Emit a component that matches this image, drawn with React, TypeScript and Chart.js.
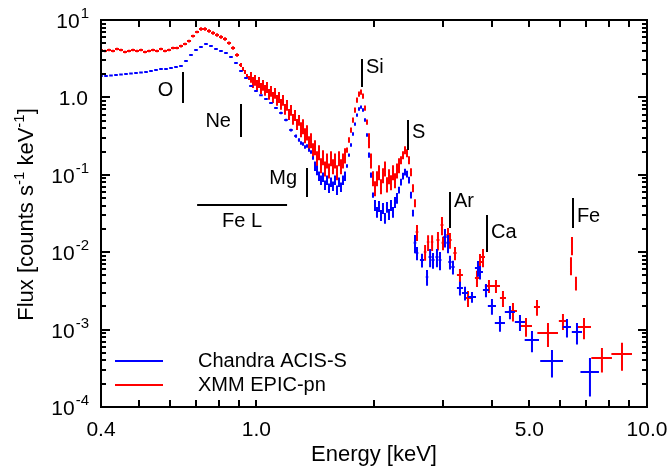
import React, { useEffect, useRef } from 'react';
import { Chart, registerables } from 'chart.js';

Chart.register(...registerables);

// ---------------- data ----------------
// Chandra ACIS-S, finely binned part (energy keV, flux, error %)
const chandraE = [0.400,0.412,0.4243,0.437,0.4501,0.4635,0.4774,0.4917,0.5064,0.5216,0.5371,0.5532,0.5698,0.5868,0.6044,0.6224,0.6410,0.6602,0.6800,0.7003,0.7212,0.7428,0.7650,0.7879,0.8115,0.8357,0.8607,0.8865,0.9130,0.9403,0.9684,0.9974,1.0272,1.0579,1.0896,1.1222,1.1557,1.1903,1.2259,1.2626,
  1.2852,1.3004,1.3159,1.3315,1.3473,1.3632,1.3794,1.3958,1.4123,1.4291,1.4460,1.4632,1.4805,1.4981,1.5158,1.5338,1.5520,1.5704,1.5890,1.6079,1.6269,1.6462,1.6657,1.6855,1.7055,1.7257,1.7462,1.7669,1.7879,1.8091,1.8305,1.8522,1.8742,1.8964,1.9189,1.9417,1.9647,1.9880,2.0116,2.0354,2.0596,2.0840,2.1087,2.1337,2.1590,2.1846,2.2105,2.2368,2.2633,2.2901,2.3173,2.3448,2.3726,2.4007,2.4292,2.4580,2.4871,2.5166];
const chandraF = [1.89,1.89,1.92,1.95,1.98,2.01,2.04,2.07,2.10,2.13,2.19,2.26,2.33,2.33,2.40,2.47,2.55,2.95,3.53,4.10,4.48,4.90,4.61,4.22,3.98,3.75,3.33,2.78,2.19,1.78,1.40,1.21,1.07,0.953,0.846,0.730,0.629,0.511,0.379,0.317,
  0.282,0.258,0.250,0.229,0.236,0.209,0.197,0.165,0.130,0.115,0.0965,0.0857,0.0937,0.0738,0.0857,0.0675,0.0807,0.0717,0.0857,0.0636,0.0807,0.0696,0.0857,0.0965,0.130,0.180,0.243,0.337,0.453,0.592,0.708,0.751,0.688,0.511,0.327,0.180,0.0994,0.0548,0.0407,0.0331,0.0395,0.0302,0.0372,0.0277,0.0384,0.0311,0.0407,0.0331,0.0445,0.0502,0.0636,0.0807,0.0965,0.1087,0.1024,0.0857,0.0548,0.0321];
const chandraErrPct = [2,2,2,2,2,2,2,2,2,2,2,2,2,2,2,2,2,2,2,2,2,2,2,2,2,2,2,2,2,2,2,2,3,3,3,3,4,4,4,5,
  5,5,5,5,5,5,5,5,
  14,14,14,14,14,14,14,14,14,14,14,14,14,14,14,14,
  5,5,5,5,5,5,5,5,5,5,5,
  8,8,8,
  16,16,16,16,16,16,16,16,16,16,16,16,
  10,10,10,10,10,10,10,10];
// Chandra ACIS-S, grouped bins (energy, flux, energy half width, flux error)
const chandraBinE = [2.547,2.577,2.654,2.734,2.784,2.832,2.899,2.951,3.039,3.094,3.130,3.186,3.320,3.420,3.564,3.692,3.736,3.870,4.009,4.203,4.458,4.729,5.076,5.711,6.239,6.618,7.144];
const chandraBinF = [0.0132,0.00976,0.00793,0.00478,0.00867,0.00793,0.00867,0.00793,0.0157,0.0132,0.00747,0.00644,0.00345,0.00297,0.00264,0.00625,0.00555,0.00325,0.00202,0.00122,0.00169,0.00125,0.000734,0.000393,0.00108,0.00093,0.000283];
const chandraBinDE = [0.02,0.02,0.032,0.02,0.025,0.025,0.025,0.025,0.03,0.03,0.03,0.03,0.059,0.061,0.085,0.066,0.066,0.069,0.096,0.126,0.133,0.141,0.214,0.383,0.149,0.198,0.389];
const chandraBinDF = [0.0035,0.0019,0.0016,0.0011,0.0023,0.0018,0.0023,0.0021,0.0042,0.0035,0.0015,0.0013,0.0007,0.0006,0.00042,0.00145,0.0011,0.00064,0.00047,0.00028,0.00033,0.00029,0.000225,0.000152,0.00029,0.00029,0.000146];

// XMM EPIC-pn, finely binned part
const xmmE = [0.400,0.4096,0.4193,0.4293,0.4396,0.4501,0.4608,0.4718,0.4830,0.4946,0.5064,0.5185,0.5309,0.5436,0.5565,0.5698,0.5834,0.5974,0.6116,0.6262,0.6410,0.6564,0.6721,0.6882,0.7046,0.7212,0.7385,0.7563,0.7743,0.7928,0.8115,0.8310,0.8509,0.8712,0.8920,
  0.9130,0.9238,0.9348,0.9459,0.9571,0.9684,0.9799,0.9916,1.0033,1.0152,1.0272,1.0394,1.0518,1.0642,1.0769,1.0896,1.1025,1.1156,1.1289,1.1422,1.1558,1.1695,1.1834,1.1974,1.2116,1.2260,1.2405,1.2553,1.2701,1.2852,1.3004,1.3159,1.3315,1.3473,1.3632,1.3794,1.3958,1.4123,1.4291,1.4460,1.4632,1.4805,1.4981,1.5158,1.5338,1.5520,1.5704,1.5890,1.6079,1.6269,1.6462,1.6657,1.6855,1.7055,1.7257,1.7462,1.7669,1.7879,1.8091,1.8305,1.8522,1.8742,1.8964,1.9189,1.9417,1.9647,1.9880,2.0116,2.0354,2.0596,2.0840,2.1087,2.1337,2.1590,2.1846,2.2105,2.2368,2.2633,2.2901,2.3173,2.3448,2.3726,2.4007,2.4292,2.4580,2.4871,2.5166,2.5465];
const xmmF = [4.10,3.98,4.10,3.98,4.22,4.10,3.86,3.98,4.10,3.98,4.10,3.86,3.98,4.10,3.98,4.22,3.98,4.10,4.35,4.35,4.61,4.90,5.35,6.21,7.00,7.65,7.65,7.21,6.79,6.40,6.03,5.68,5.04,4.35,3.53,
  2.62,2.33,2.13,1.89,1.78,1.84,1.58,1.68,1.45,1.58,1.32,1.45,1.25,1.36,1.11,1.21,1.01,1.14,0.926,1.01,0.822,0.926,0.708,0.798,0.610,0.688,0.526,0.592,0.453,0.511,
  0.391,0.427,0.327,0.357,0.258,0.282,0.209,0.229,0.165,0.197,0.134,0.170,0.122,0.155,0.115,0.165,0.130,0.155,0.1087,0.165,0.130,0.155,0.180,
  0.209,0.282,0.379,0.511,0.688,0.926,1.106,1.174,1.043,0.730,0.481,
  0.282,0.155,0.0909,0.0675,0.0909,0.1087,0.0717,0.0994,0.122,0.0760,0.0965,0.0807,0.1087,0.0857,0.115,0.134,
  0.155,0.180,0.209,0.191,0.155,0.1087,0.0675,0.0432];
const xmmErrPct = [4,4,4,4,4,4,4,4,4,4,4,4,4,4,4,4,4,4,4,4,4,4,4,4,4,5,5,5,5,5,5,5,5,5,5,
  6,6,6,6,6,
  16,16,16,16,16,16,16,16,16,16,16,16,16,16,16,16,16,16,16,16,16,16,16,16,16,
  22,22,22,22,22,22,22,22,22,22,22,22,22,22,22,22,22,22,22,22,22,22,22,
  8,8,8,8,8,8,8,8,8,8,8,
  22,22,22,22,22,22,22,22,22,22,22,22,22,22,22,22,
  12,12,12,12,12,12,12,12];
// XMM EPIC-pn, grouped bins
const xmmBinE = [2.577,2.703,2.751,2.817,2.916,2.986,3.004,3.094,3.130,3.224,3.320,3.481,3.670,3.736,3.803,3.939,4.105,4.278,4.538,4.900,5.228,5.578,6.093,6.388,6.426,6.579,6.897,7.667,8.629];
const xmmBinF = [0.0182,0.01006,0.0135,0.0135,0.0144,0.0225,0.0132,0.0167,0.0144,0.00976,0.00508,0.00256,0.00464,0.00747,0.00867,0.00366,0.00366,0.00256,0.00174,0.00111,0.00196,0.000904,0.00129,0.00683,0.0124,0.004,0.00108,0.00043,0.000484];
const xmmBinDE = [0.02,0.02,0.02,0.02,0.025,0.025,0.025,0.03,0.03,0.03,0.059,0.062,0.044,0.044,0.045,0.094,0.098,0.076,0.108,0.176,0.093,0.339,0.146,0.008,0.008,0.017,0.29,0.465,0.523];
const xmmBinDF = [0.0042,0.0023,0.0031,0.0031,0.0039,0.006,0.0026,0.0039,0.0033,0.0019,0.001,0.0006,0.0011,0.002,0.0023,0.0007,0.0007,0.0006,0.00047,0.0003,0.00045,0.00031,0.0003,0.0018,0.0033,0.0008,0.00033,0.00015,0.00019];

const seriesNames = ['Chandra ACIS-S', 'XMM EPIC-pn'];

// axes
const xMin = 0.4, xMax = 10;
const yMin = 1e-4, yMax = 10;
const xTickValues = [0.4,0.5,0.6,0.7,0.8,0.9,1,2,3,4,5,6,7,8,9,10];
const xTickLabels = ['0.4','','','','','','1.0','','','','5.0','','','','','10.0'];
const yDecades = [1e-4,1e-3,1e-2,1e-1,1,10];
const yDecadeBase = ['10','10','10','10','1.0','10'];
const yDecadeExp = ['-4','-3','-2','-1','','1'];
const xTitle = 'Energy [keV]';

// emission line markers
const lineNames = ['O','Ne','Mg','Si','S','Ar','Ca','Fe'];
const lineEnergy = [0.65,0.913,1.348,1.863,2.444,3.13,3.893,6.46];
const lineTopF = [2.13,0.822,0.122,3.13,0.511,0.06,0.0302,0.0502];
const lineBottomF = [0.846,0.308,0.0517,1.36,0.209,0.0205,0.01006,0.0205];
const labelF = [1.265,0.503,0.0937,2.58,0.368,0.0472,0.0188,0.0298];
const labelSide = ['left','left','left','right','right','right','right','right'];
const feLName = 'Fe L';
const feLRange = [0.705, 1.198];
const feLFlux = 0.0407;
const feLLabelF = 0.0257;

// ---------------- helpers ----------------
const BLUE = '#0000ff';
const RED = '#ff0000';
const FONT = '"Liberation Sans", Arial, Helvetica, sans-serif';

type P = { x: number; y: number; xl: number; xh: number; yl: number; yh: number };

function densePoints(E: number[], F: number[], pct: number[], frac: number): P[] {
  return E.map((e, i) => {
    const l = i > 0 ? Math.log10(e / E[i - 1]) : Math.log10(E[i + 1] / e);
    const r = i < E.length - 1 ? Math.log10(E[i + 1] / e) : l;
    const f = F[i];
    const d = (f * pct[i]) / 100;
    return { x: e, y: f, xl: e * Math.pow(10, -frac * l), xh: e * Math.pow(10, frac * r), yl: f - d, yh: f + d };
  });
}
function binPoints(E: number[], F: number[], DE: number[], DF: number[]): P[] {
  return E.map((e, i) => ({ x: e, y: F[i], xl: e - DE[i], xh: e + DE[i], yl: Math.max(F[i] - DF[i], 1e-6), yh: F[i] + DF[i] }));
}

const errorBarPlugin = {
  id: 'errorBars',
  afterDatasetsDraw(chart: any) {
    const { ctx, chartArea: a } = chart;
    const xs = chart.scales.x, ys = chart.scales.y;
    ctx.save();
    ctx.beginPath();
    ctx.rect(a.left, a.top, a.right - a.left, a.bottom - a.top);
    ctx.clip();
    chart.data.datasets.forEach((ds: any) => {
      ctx.strokeStyle = ds.borderColor;
      ctx.lineWidth = ds.borderWidth;
      ctx.lineCap = 'butt';
      ctx.beginPath();
      ds.data.forEach((p: P) => {
        const px = xs.getPixelForValue(p.x);
        const py = ys.getPixelForValue(p.y);
        ctx.moveTo(xs.getPixelForValue(p.xl), py);
        ctx.lineTo(xs.getPixelForValue(p.xh), py);
        ctx.moveTo(px, ys.getPixelForValue(p.yl));
        ctx.lineTo(px, ys.getPixelForValue(p.yh));
      });
      ctx.stroke();
    });
    ctx.restore();
  },
};

const framePlugin = {
  id: 'frame',
  afterDraw(chart: any) {
    const { ctx, chartArea: a } = chart;
    const xs = chart.scales.x, ys = chart.scales.y;
    ctx.save();
    ctx.strokeStyle = '#000';
    ctx.fillStyle = '#000';
    ctx.lineWidth = 2;
    ctx.strokeRect(a.left, a.top, a.right - a.left, a.bottom - a.top);

    // x ticks (inward, bottom and top)
    ctx.beginPath();
    xTickValues.forEach((v) => {
      if (v <= xMin || v >= xMax) return;
      const px = Math.round(xs.getPixelForValue(v));
      ctx.moveTo(px, a.bottom); ctx.lineTo(px, a.bottom - 7);
      ctx.moveTo(px, a.top); ctx.lineTo(px, a.top + 7);
    });
    // y ticks, major decades + minor 2..9
    yDecades.forEach((d) => {
      for (let m = 1; m <= 9; m++) {
        const v = d * m;
        if (v <= yMin || v >= yMax) continue;
        const py = Math.round(ys.getPixelForValue(v));
        const len = m === 1 ? 9 : 5;
        ctx.moveTo(a.left, py); ctx.lineTo(a.left + len, py);
        ctx.moveTo(a.right, py); ctx.lineTo(a.right - len, py);
      }
    });
    ctx.stroke();

    // x tick labels
    ctx.font = `21px ${FONT}`;
    ctx.textAlign = 'center';
    ctx.textBaseline = 'alphabetic';
    xTickValues.forEach((v, i) => {
      const t = xTickLabels[i];
      if (!t) return;
      ctx.fillText(t, xs.getPixelForValue(v), a.bottom + 29);
    });

    // y tick labels with superscripts
    ctx.textAlign = 'left';
    yDecades.forEach((d, i) => {
      const py = ys.getPixelForValue(d);
      const base = yDecadeBase[i], exp = yDecadeExp[i];
      ctx.font = `21px ${FONT}`;
      const wb = ctx.measureText(base).width;
      ctx.font = `15px ${FONT}`;
      const we = exp ? ctx.measureText(exp).width : 0;
      const right = a.left - 13;
      const start = right - wb - we;
      ctx.font = `21px ${FONT}`;
      ctx.fillText(base, start, py + 8);
      if (exp) {
        ctx.font = `15px ${FONT}`;
        ctx.fillText(exp, start + wb + 1, py - 2);
      }
    });

    // x title
    ctx.font = `22px ${FONT}`;
    ctx.textAlign = 'center';
    ctx.fillText(xTitle, (a.left + a.right) / 2, a.bottom + 54);

    // y title (rotated, with superscripts)
    const parts: [string, boolean][] = [['Flux [counts s', false], ['-1', true], [' keV', false], ['-1', true], [']', false]];
    const widths = parts.map(([t, sup]) => { ctx.font = `${sup ? 15 : 22}px ${FONT}`; return ctx.measureText(t).width; });
    const total = widths.reduce((s, w) => s + w, 0);
    ctx.save();
    ctx.translate(33, (a.top + a.bottom) / 2 + 1);
    ctx.rotate(-Math.PI / 2);
    ctx.textAlign = 'left';
    let cx = -total / 2;
    parts.forEach(([t, sup], i) => {
      ctx.font = `${sup ? 15 : 22}px ${FONT}`;
      ctx.fillText(t, cx, sup ? -9 : 0);
      cx += widths[i];
    });
    ctx.restore();

    // emission line markers
    ctx.lineWidth = 2;
    ctx.font = `20px ${FONT}`;
    ctx.beginPath();
    lineNames.forEach((n, i) => {
      const px = Math.round(xs.getPixelForValue(lineEnergy[i]));
      ctx.moveTo(px, ys.getPixelForValue(lineTopF[i]));
      ctx.lineTo(px, ys.getPixelForValue(lineBottomF[i]));
    });
    const fy = Math.round(ys.getPixelForValue(feLFlux));
    ctx.moveTo(xs.getPixelForValue(feLRange[0]), fy);
    ctx.lineTo(xs.getPixelForValue(feLRange[1]), fy);
    ctx.stroke();
    lineNames.forEach((n, i) => {
      const px = xs.getPixelForValue(lineEnergy[i]);
      const py = ys.getPixelForValue(labelF[i]) + 7;
      if (labelSide[i] === 'left') {
        ctx.textAlign = 'right';
        ctx.fillText(n, px - 10, py);
      } else {
        ctx.textAlign = 'left';
        ctx.fillText(n, px + 4, py);
      }
    });
    ctx.textAlign = 'center';
    ctx.fillText(feLName, xs.getPixelForValue(Math.sqrt(feLRange[0] * feLRange[1])), ys.getPixelForValue(feLLabelF) + 7);

    // legend
    const legendColors = [BLUE, RED];
    ctx.textAlign = 'left';
    ctx.font = `20px ${FONT}`;
    seriesNames.forEach((n, i) => {
      const ly = 361 + i * 24;
      ctx.strokeStyle = legendColors[i];
      ctx.lineWidth = 2;
      ctx.beginPath();
      ctx.moveTo(115, ly); ctx.lineTo(163, ly);
      ctx.stroke();
      ctx.fillStyle = '#000';
      ctx.fillText(n, 198, ly + 6);
    });
    ctx.restore();
  },
};

export default function App() {
  const ref = useRef<HTMLCanvasElement>(null);
  useEffect(() => {
    document.body.style.margin = '0';
    const xmmPts = [...densePoints(xmmE, xmmF, xmmErrPct, 0.5), ...binPoints(xmmBinE, xmmBinF, xmmBinDE, xmmBinDF)];
    const chPts = [...densePoints(chandraE, chandraF, chandraErrPct, 0.36), ...binPoints(chandraBinE, chandraBinF, chandraBinDE, chandraBinDF)];
    const chart = new Chart(ref.current as HTMLCanvasElement, {
      type: 'scatter',
      data: {
        datasets: [
          { label: seriesNames[1], data: xmmPts as any, borderColor: RED, backgroundColor: RED, borderWidth: 2, pointRadius: 0, showLine: false },
          { label: seriesNames[0], data: chPts as any, borderColor: BLUE, backgroundColor: BLUE, borderWidth: 2, pointRadius: 0, showLine: false },
        ],
      },
      options: {
        responsive: false,
        devicePixelRatio: 1,
        animation: false,
        layout: { padding: { top: 20, right: 23, left: 0, bottom: 0 } },
        plugins: { legend: { display: false }, tooltip: { enabled: false } },
        scales: {
          x: {
            type: 'logarithmic', min: xMin, max: xMax,
            grid: { display: false }, border: { display: false }, ticks: { display: false },
            afterFit: (s: any) => { s.height = 59; },
          },
          y: {
            type: 'logarithmic', min: yMin, max: yMax,
            grid: { display: false }, border: { display: false }, ticks: { display: false },
            afterFit: (s: any) => { s.width = 101; },
          },
        },
      } as any,
      plugins: [errorBarPlugin, framePlugin],
    });
    return () => chart.destroy();
  }, []);
  return (
    <div style={{ width: 670, height: 466, background: '#fff' }}>
      <canvas ref={ref} width={670} height={466} />
    </div>
  );
}
